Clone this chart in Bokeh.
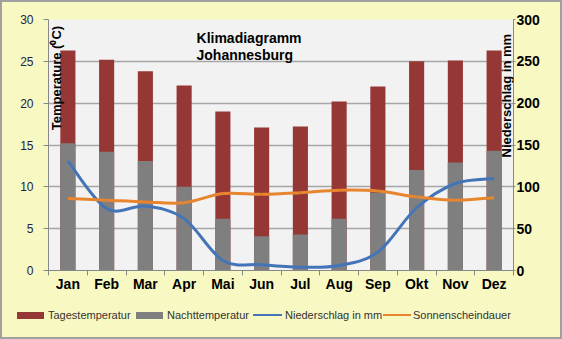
import math
from bokeh.plotting import figure
from bokeh.layouts import column
from bokeh.models import (Range1d, LinearAxis, FixedTicker, Label, ColumnDataSource, Div)
from bokeh.embed import file_html
from bokeh.resources import INLINE

# ---------------- data ----------------
months = ["Jan", "Feb", "Mar", "Apr", "Mai", "Jun", "Jul", "Aug", "Sep", "Okt", "Nov", "Dez"]
tagestemperatur = [26.3, 25.2, 23.8, 22.1, 19.0, 17.1, 17.2, 20.2, 22.0, 25.0, 25.1, 26.3]
nachttemperatur = [15.2, 14.2, 13.1, 10.0, 6.2, 4.1, 4.3, 6.2, 9.3, 12.0, 12.9, 14.3]
niederschlag = [131, 74, 77, 62, 12, 7, 4, 6, 22, 75, 104, 110]
sonnenschein = [8.6, 8.4, 8.2, 8.1, 9.2, 9.1, 9.3, 9.6, 9.5, 8.8, 8.4, 8.7]
temp_ticks = [0, 5, 10, 15, 20, 25, 30]
rain_ticks = [0, 50, 100, 150, 200, 250, 300]
series_names = ["Tagestemperatur", "Nachttemperatur", "Niederschlag in mm", "Sonnenscheindauer"]

RED = "#953735"
GRAY = "#7F7F7F"
BLUE = "#4474B8"
ORANGE = "#E8852F"
BG = "#F8F8C2"
PLOT_BG = "#F2F2F2"
GRID = "#A6A6A6"
EDGE = "#A0A0A0"
FONT = "Liberation Sans"

xs = list(range(1, len(months) + 1))


def smooth_segments(x, y):
    """Excel-like smoothed line: cubic Bezier segments through the data points."""
    n = len(x)
    seg = dict(x0=[], y0=[], x1=[], y1=[], cx0=[], cy0=[], cx1=[], cy1=[])
    for i in range(n - 1):
        a = i - 1 if i > 0 else i
        d = i + 2 if i + 2 < n else i + 1
        seg["x0"].append(x[i]); seg["y0"].append(y[i])
        seg["x1"].append(x[i + 1]); seg["y1"].append(y[i + 1])
        seg["cx0"].append(x[i] + (x[i + 1] - x[a]) / 6.0)
        seg["cy0"].append(y[i] + (y[i + 1] - y[a]) / 6.0)
        seg["cx1"].append(x[i + 1] - (x[d] - x[i]) / 6.0)
        seg["cy1"].append(y[i + 1] - (y[d] - y[i]) / 6.0)
    return ColumnDataSource(seg)


p = figure(width=558, height=292, output_backend="svg", toolbar_location=None,
           x_range=Range1d(0.5, 12.5), y_range=Range1d(0, 30),
           min_border_left=46, min_border_right=47, min_border_top=17, min_border_bottom=24)
p.extra_y_ranges = {"rain": Range1d(0, 300)}
p.background_fill_color = PLOT_BG
p.border_fill_color = BG
p.outline_line_color = None

# axes
p.xaxis.ticker = FixedTicker(ticks=xs, minor_ticks=[i + 0.5 for i in range(0, 13)])
p.xaxis.major_label_overrides = {i: m for i, m in zip(xs, months)}
p.xaxis.major_tick_line_color = None
p.xaxis.major_tick_out = 0
p.xaxis.major_tick_in = 0
p.xaxis.minor_tick_out = 5
p.xaxis.minor_tick_in = 0
p.xaxis.minor_tick_line_color = "#888888"
p.xaxis.axis_line_color = "#888888"
p.xaxis.major_label_standoff = 0
p.xaxis.major_label_text_font = FONT
p.xaxis.major_label_text_font_size = "14px"
p.xaxis.major_label_text_font_style = "bold"
p.xaxis.major_label_text_color = "black"

p.yaxis.ticker = FixedTicker(ticks=temp_ticks)
p.yaxis.minor_tick_line_color = None
p.yaxis.major_tick_out = 5
p.yaxis.major_tick_in = 0
p.yaxis.major_tick_line_color = "#888888"
p.yaxis.axis_line_color = "#888888"
p.yaxis.major_label_standoff = 10
p.yaxis.major_label_text_font = FONT
p.yaxis.major_label_text_font_size = "12px"
p.yaxis.major_label_text_color = "#222244"

raxis = LinearAxis(y_range_name="rain", ticker=FixedTicker(ticks=rain_ticks))
raxis.minor_tick_line_color = None
raxis.major_tick_out = 2
raxis.major_tick_in = 0
raxis.major_tick_line_color = "#888888"
raxis.axis_line_color = "#888888"
raxis.major_label_standoff = 1
raxis.major_label_text_font = FONT
raxis.major_label_text_font_size = "14px"
raxis.major_label_text_font_style = "bold"
raxis.major_label_text_color = "black"
p.add_layout(raxis, "right")

p.xgrid.grid_line_color = None
p.ygrid.ticker = FixedTicker(ticks=temp_ticks)
p.ygrid.grid_line_color = GRID
p.ygrid.grid_line_width = 1.5

# bars
p.vbar(x=xs, top=tagestemperatur, width=0.39, bottom=0, fill_color=RED, line_color=None)
p.vbar(x=xs, top=nachttemperatur, width=0.39, bottom=0, fill_color=GRAY, line_color=None)

# smoothed lines
p.bezier(x0="x0", y0="y0", x1="x1", y1="y1", cx0="cx0", cy0="cy0", cx1="cx1", cy1="cy1",
         source=smooth_segments(xs, niederschlag), y_range_name="rain",
         line_color=BLUE, line_width=3)
p.bezier(x0="x0", y0="y0", x1="x1", y1="y1", cx0="cx0", cy0="cy0", cx1="cx1", cy1="cy1",
         source=smooth_segments(xs, sonnenschein),
         line_color=ORANGE, line_width=3)

# titles
p.add_layout(Label(x=4.32, y=27.73, text="Klimadiagramm", text_font=FONT,
                   text_font_size="14px", text_font_style="bold", text_align="left",
                   text_baseline="alphabetic", text_color="black"))
p.add_layout(Label(x=4.32, y=25.70, text="Johannesburg", text_font=FONT,
                   text_font_size="14px", text_font_style="bold", text_align="left",
                   text_baseline="alphabetic", text_color="black"))
p.add_layout(Label(x=0.71, y=23.0, text="Temperature (\u2070C)", angle=math.pi / 2,
                   text_font=FONT, text_font_size="13px", text_font_style="bold",
                   text_align="center", text_baseline="middle", text_color="black"))
p.add_layout(Label(x=12.32, y=20.9, text="Niederschlag in mm", angle=math.pi / 2,
                   text_font=FONT, text_font_size="13px", text_font_style="bold",
                   text_align="center", text_baseline="middle", text_color="black"))

# ---------------- legend strip ----------------
# (swatch colour, swatch kind, swatch left, swatch width, label left)
legend_spec = [
    (RED, "box", 15, 27, 46),
    (GRAY, "box", 134, 27, 165),
    (BLUE, "line", 251, 29, 283),
    (ORANGE, "line", 381, 28, 411),
]
parts = []
for name, (col, kind, sl, sw, tl) in zip(series_names, legend_spec):
    if kind == "box":
        parts.append(f'<span style="position:absolute;left:{sl}px;top:18px;width:{sw}px;'
                     f'height:7px;background:{col};"></span>')
    else:
        parts.append(f'<span style="position:absolute;left:{sl}px;top:20px;width:{sw}px;'
                     f'height:2px;background:{col};"></span>')
    parts.append(f'<span style="position:absolute;left:{tl}px;top:14px;line-height:14px;'
                 f'white-space:nowrap;">{name}</span>')
legend_html = (f'<div style="position:relative;width:558px;height:43px;background:{BG};'
               f"font-family:'{FONT}';font-size:11px;color:#333333;\">" + "".join(parts) + "</div>")
legend_div = Div(text=legend_html, width=558, height=43, margin=0,
                 styles={"background-color": BG})

layout = column(p, legend_div, spacing=0,
                styles={"border": f"2px solid {EDGE}", "background-color": BG})

open("out.html", "w").write(file_html(layout, INLINE))
